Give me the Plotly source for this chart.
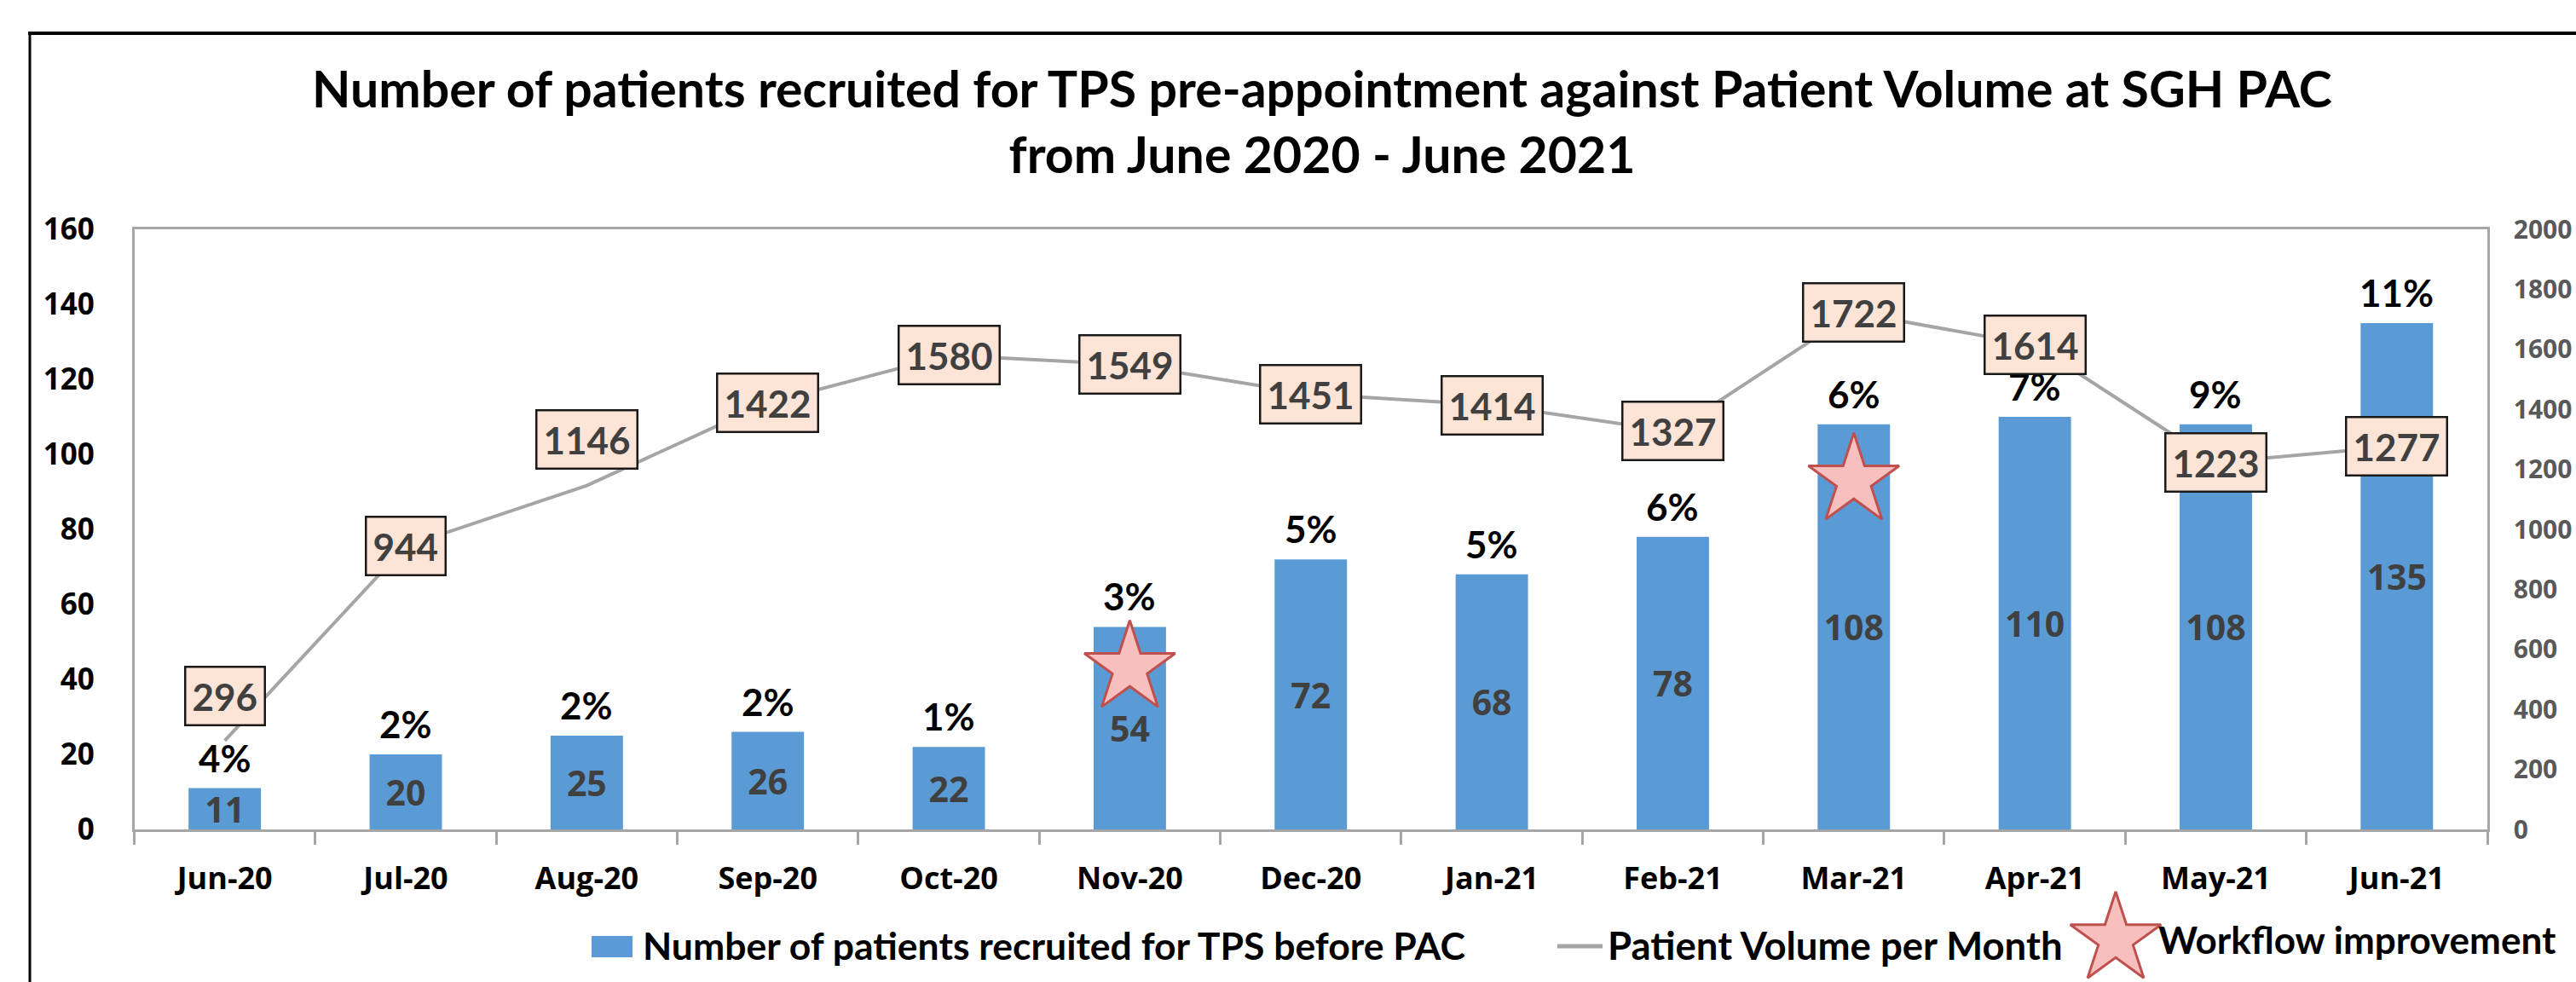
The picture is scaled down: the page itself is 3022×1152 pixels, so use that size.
import plotly.graph_objects as go

W, H = 3022, 1152

# ---------------- data ----------------
months = ["Jun-20", "Jul-20", "Aug-20", "Sep-20", "Oct-20", "Nov-20", "Dec-20",
          "Jan-21", "Feb-21", "Mar-21", "Apr-21", "May-21", "Jun-21"]
recruited = [11, 20, 25, 26, 22, 54, 72, 68, 78, 108, 110, 108, 135]
volume = [296, 944, 1146, 1422, 1580, 1549, 1451, 1414, 1327, 1722, 1614, 1223, 1277]
pct_labels = ["4%", "2%", "2%", "2%", "1%", "3%", "5%", "5%", "6%", "6%", "7%", "9%", "11%"]
star_months = ["Nov-20", "Mar-21"]
star_level = [43, 93]
left_ticks = [0, 20, 40, 60, 80, 100, 120, 140, 160]
right_ticks = [0, 200, 400, 600, 800, 1000, 1200, 1400, 1600, 1800, 2000]

title_text = ("Number of patients recruited for TPS pre-appointment against Patient Volume at SGH PAC"
              "<br>from June 2020 - June 2021")
legend_names = ["Number of patients recruited for TPS before PAC",
                "Patient Volume per Month", "Workflow improvement"]

# ---------------- helpers (pixel -> paper) ----------------
def px(x):
    return x / W


def py(y):
    return 1 - y / H


BAR_COLOR = "#5B9BD5"
LINE_COLOR = "#A5A5A5"
AXIS_COLOR = "#A6A6A6"
STAR_FILL = "#F8BFBF"
STAR_EDGE = "#C0504D"
BOX_FILL = "#FCE4D6"

# label vertical offsets (px) for volume boxes that were moved in the original
box_shift = {"Jun-20": 52, "Aug-20": 54}

fig = go.Figure()

fig.add_trace(go.Bar(
    x=months, y=recruited,
    text=[str(v) for v in recruited],
    textposition="inside", insidetextanchor="middle", constraintext="none",
    textangle=0,
    textfont=dict(family="Open Sans", size=41, color="#404040", weight="bold"),
    marker=dict(color=BAR_COLOR, line=dict(width=0)),
    name=legend_names[0], showlegend=False,
    xaxis="x", yaxis="y", hoverinfo="skip",
))

fig.add_trace(go.Scatter(
    x=months, y=volume, mode="lines",
    line=dict(color=LINE_COLOR, width=4),
    name=legend_names[1], showlegend=False,
    xaxis="x", yaxis="y2", hoverinfo="skip",
))

fig.add_trace(go.Scatter(
    x=star_months, y=star_level, mode="markers",
    marker=dict(symbol="star", size=80, color=STAR_FILL,
                line=dict(color=STAR_EDGE, width=3)),
    name=legend_names[2], showlegend=False,
    xaxis="x", yaxis="y", hoverinfo="skip",
))

# legend key star, on a full-canvas pixel axis
fig.add_trace(go.Scatter(
    x=[2482], y=[1102], mode="markers",
    marker=dict(symbol="star", size=80, color=STAR_FILL,
                line=dict(color=STAR_EDGE, width=3)),
    showlegend=False, xaxis="x3", yaxis="y3", hoverinfo="skip",
))

annotations = []

# percentage labels above bars
for m, v, t in zip(months, recruited, pct_labels):
    annotations.append(dict(
        x=m, y=v, xref="x", yref="y", text=t, showarrow=False,
        xanchor="center", yanchor="bottom", yshift=8,
        font=dict(family="Lato", size=44, color="black", weight="bold"),
    ))

# boxed volume labels
for m, v in zip(months, volume):
    annotations.append(dict(
        x=m, y=v, xref="x", yref="y2", text=str(v), showarrow=False,
        xanchor="center", yanchor="middle", yshift=box_shift.get(m, 0),
        bgcolor=BOX_FILL, bordercolor="#1A1A1A", borderwidth=2.5, borderpad=7,
        font=dict(family="Lato", size=44, color="#404040", weight="bold"),
    ))

# custom legend texts
annotations.append(dict(x=px(752), y=py(1108), xref="paper", yref="paper",
                        text=legend_names[0], showarrow=False,
                        xanchor="left", yanchor="middle",
                        font=dict(family="Lato", size=44.5, color="black", weight="bold")))
annotations.append(dict(x=px(1884), y=py(1108), xref="paper", yref="paper",
                        text=legend_names[1], showarrow=False,
                        xanchor="left", yanchor="middle",
                        font=dict(family="Lato", size=45.5, color="black", weight="bold")))
annotations.append(dict(x=px(2530), y=py(1102), xref="paper", yref="paper",
                        text=legend_names[2], showarrow=False,
                        xanchor="left", yanchor="middle",
                        font=dict(family="Lato", size=44, color="black", weight="bold")))

shapes = [
    # outer frame (top + left)
    dict(type="line", xref="paper", yref="paper", x0=px(33), x1=px(3100),
         y0=py(39), y1=py(39), line=dict(color="black", width=4)),
    dict(type="line", xref="paper", yref="paper", x0=px(35), x1=px(35),
         y0=py(39), y1=py(1200), line=dict(color="black", width=3)),
    # legend keys
    dict(type="rect", xref="paper", yref="paper", x0=px(694), x1=px(742),
         y0=py(1123), y1=py(1098), fillcolor=BAR_COLOR, line=dict(width=0)),
    dict(type="line", xref="paper", yref="paper", x0=px(1827), x1=px(1880),
         y0=py(1110), y1=py(1110), line=dict(color=LINE_COLOR, width=5)),
]

tick_font_black = dict(family="Open Sans", size=35, color="black", weight="bold")
tick_font_gray = dict(family="Open Sans", size=30, color="#595959", weight="bold")

fig.update_layout(
    template="none",
    width=W, height=H,
    margin=dict(l=0, r=0, t=0, b=0),
    paper_bgcolor="white", plot_bgcolor="rgba(0,0,0,0)",
    showlegend=False,
    bargap=0.6,
    title=dict(text=title_text, x=px(1551), xanchor="center", xref="paper",
               y=py(126), yref="container", yanchor="top",
               font=dict(family="Lato", size=59, color="black", weight="bold")),
    xaxis=dict(
        domain=[px(157.5), px(2918)], type="category", range=[-0.5, 12.5],
        showline=True, linecolor=AXIS_COLOR, linewidth=2.5, mirror=True,
        ticks="outside", tickson="boundaries", ticklen=15, tickwidth=2.5,
        tickcolor=AXIS_COLOR, tickfont=dict(family="Open Sans", size=36,
                                            color="black", weight="bold"),
        ticklabelstandoff=24, showgrid=False, zeroline=False, automargin=False,
        fixedrange=True,
    ),
    yaxis=dict(
        domain=[py(973), py(269)], range=[0, 160], tickmode="array",
        tickvals=left_ticks, ticktext=[str(t) for t in left_ticks],
        showline=True, linecolor=AXIS_COLOR, linewidth=2.5, mirror=True,
        ticks="", tickfont=tick_font_black, ticklabelstandoff=37,
        showgrid=False, zeroline=False, automargin=False, fixedrange=True,
    ),
    yaxis2=dict(
        overlaying="y", side="right", range=[0, 2000], tickmode="array",
        tickvals=right_ticks, ticktext=[str(t) for t in right_ticks],
        showline=True, linecolor=AXIS_COLOR, linewidth=2.5,
        ticks="", tickfont=tick_font_gray, ticklabelstandoff=22,
        showgrid=False, zeroline=False, automargin=False, fixedrange=True,
    ),
    xaxis3=dict(domain=[0, 1], range=[0, W], visible=False, anchor="y3",
                fixedrange=True),
    yaxis3=dict(domain=[0, 1], range=[H, 0], visible=False, anchor="x3",
                fixedrange=True),
    annotations=annotations,
    shapes=shapes,
)

fig.write_html("out.html", config={"displayModeBar": False},
               post_script="document.body.style.margin='0';")
